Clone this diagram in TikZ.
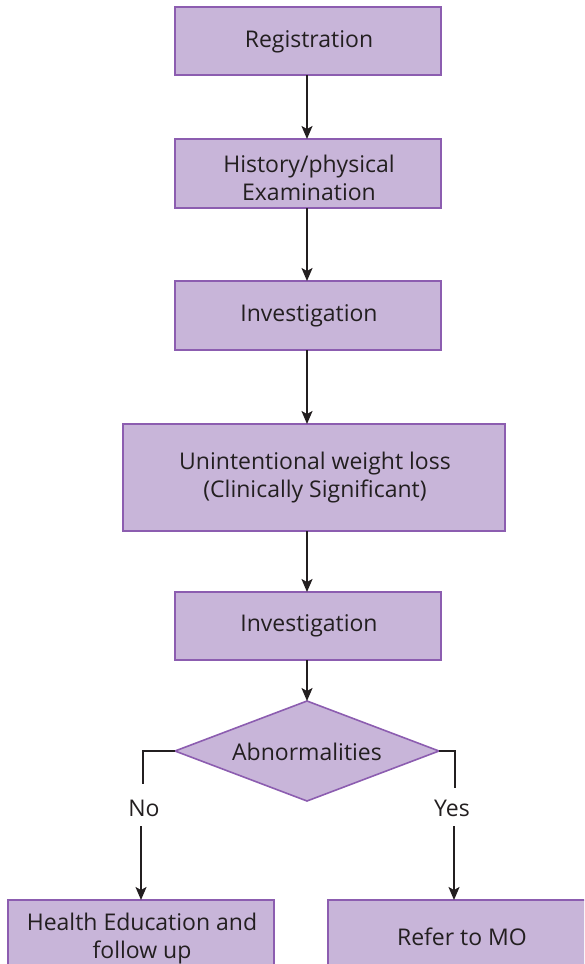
\documentclass[tikz,border=0pt]{standalone}
\usepackage{fontspec}
\setmainfont{Open Sans}
\usetikzlibrary{arrows.meta,shapes.geometric}
\definecolor{boxfill}{HTML}{C8B5D9}
\definecolor{boxdraw}{HTML}{8C5DB0}
\definecolor{arr}{HTML}{231F20}
\tikzset{
  stepbox/.style={draw=boxdraw,fill=boxfill,line width=1.6pt},
  conn/.style={draw=arr,line width=1.8pt,-{Stealth[length=13pt,width=11pt,inset=3pt]}},
  plain/.style={draw=arr,line width=1.8pt},
  lbl/.style={font=\fontsize{23}{28}\selectfont,text=arr,align=center}
}
\begin{document}
\begin{tikzpicture}[x=1pt,y=-1pt]
\useasboundingbox (0,0) rectangle (584,964);
\clip (0,0) rectangle (584,964);
\path[stepbox] (175,7) rectangle (441,75);
\node[lbl] (reg) at (309,42) {Registration};
\coordinate (regS) at (307,75);
\path[stepbox] (175,139) rectangle (441,208);
\node[lbl] (hist) at (309,178) {History/physical\\Examination};
\coordinate (histN) at (307,139);
\coordinate (histS) at (307,208);
\path[stepbox] (175,281) rectangle (441,350);
\node[lbl] (inv1) at (309,316) {Investigation};
\coordinate (inv1N) at (307,281);
\coordinate (inv1S) at (307,350);
\path[stepbox] (123,424) rectangle (505,531);
\node[lbl] (uwl) at (315,478) {Unintentional weight loss\\(Clinically Significant)};
\coordinate (uwlN) at (307,424);
\coordinate (uwlS) at (307,531);
\path[stepbox] (175,592) rectangle (441,660);
\node[lbl] (inv2) at (309,626) {Investigation};
\coordinate (inv2N) at (307,592);
\coordinate (inv2S) at (307,660);
\path[stepbox] (307,701) -- (439,751) -- (307,801) -- (175,751) -- cycle;
\node[lbl] (abn) at (307,752) {Abnormalities};
\coordinate (dN) at (307,701);
\coordinate (dW) at (175,751);
\coordinate (dE) at (439,751);
\path[stepbox] (8,900) rectangle (274,990);
\node[lbl] (he) at (142,939) {Health Education and\\follow up};
\coordinate (heN) at (141,900);
\path[stepbox] (328,900) rectangle (600,990);
\node[lbl] (ref) at (462,937) {Refer to MO};
\coordinate (refN) at (454,900);
\node[lbl] (no) at (144,808) {No};
\node[lbl] (yes) at (452,808) {Yes};
\coordinate (noT) at (141,826);
\coordinate (yesT) at (454,826);
\draw[conn] (regS) -- (histN);
\draw[conn] (histS) -- (inv1N);
\draw[conn] (inv1S) -- (uwlN);
\draw[conn] (uwlS) -- (inv2N);
\draw[conn] (inv2S) -- (dN);
\draw[plain] (dW) -- (143,751) -- (143,784);
\draw[plain] (dE) -- (455,751) -- (455,788);
\draw[conn] (noT) -- (heN);
\draw[conn] (yesT) -- (refN);
\end{tikzpicture}
\end{document}
